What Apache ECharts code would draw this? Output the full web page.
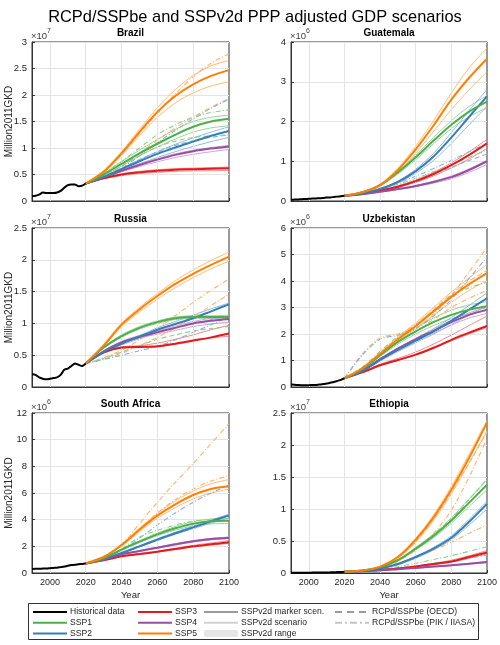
<!DOCTYPE html>
<html><head><meta charset="utf-8">
<script src="https://cdn.jsdelivr.net/npm/echarts@6/dist/echarts.min.js"></script>
<style>html,body{margin:0;padding:0;background:#fff}#c{width:500px;height:645px}</style>
</head><body><div id="c"></div>
<script>
// ---------------- DATA ----------------
const countries = ['Brazil','Guatemala','Russia','Uzbekistan','South Africa','Ethiopia'];
const exponents = [7,6,7,6,6,7];
const yMax = [3,4,2.5,6,12,2.5];
const yStep = [0.5,1,0.5,1,2,0.5];
const xTicks = [2000,2020,2040,2060,2080,2100];
const histYears = [1990,1992,1994,1996,1998,2000,2002,2004,2006,2008,2010,2012,2014,2016,2018,2020];
const projYears = [2020,2030,2040,2050,2060,2070,2080,2090,2100];
const sspNames = ['SSP1','SSP2','SSP3','SSP4','SSP5'];

// Brazil (x1e7)
const brazilHist = [.09,.10,.12,.16,.15,.15,.15,.16,.19,.25,.30,.31,.31,.28,.29,.33];
const brazilMarker = [
 [.33,.50,.70,.90,1.08,1.25,1.40,1.50,1.55],
 [.33,.45,.60,.75,.89,1.01,1.12,1.23,1.32],
 [.33,.43,.50,.54,.57,.59,.60,.61,.62],
 [.33,.45,.57,.68,.78,.87,.94,.99,1.03],
 [.33,.55,.90,1.30,1.68,1.98,2.20,2.36,2.47]];
const brazilLow = [
 [.33,.48,.66,.85,1.02,1.17,1.30,1.38,1.42],
 [.33,.44,.57,.70,.82,.93,1.03,1.12,1.20],
 [.33,.42,.48,.52,.54,.56,.57,.57,.58],
 [.33,.44,.55,.65,.74,.82,.88,.93,.97],
 [.33,.53,.86,1.23,1.58,1.85,2.04,2.17,2.25]];
const brazilHigh = [
 [.33,.52,.74,.96,1.16,1.35,1.50,1.58,1.62],
 [.33,.46,.62,.78,.93,1.07,1.19,1.30,1.40],
 [.33,.44,.51,.56,.59,.61,.62,.63,.64],
 [.33,.46,.58,.70,.80,.89,.96,1.01,1.05],
 [.33,.57,.93,1.35,1.76,2.10,2.37,2.55,2.65]];
const brazilPIK = [
 [5,[.33,.55,.88,1.27,1.66,2.02,2.34,2.60,2.78]],
 [5,[.33,.45,.65,.90,1.15,1.38,1.58,1.77,1.93]],
 [2,[.33,.44,.62,.85,1.10,1.33,1.55,1.75,1.92]],
 [1,[.33,.52,.75,1.00,1.25,1.44,1.58,1.67,1.72]]];
const brazilOECD = [
 [2,[.33,.46,.62,.78,.93,1.05,1.14,1.20,1.25]],
 [1,[.33,.47,.66,.86,1.02,1.13,1.20,1.23,1.25]]];

// Guatemala (x1e6)
const guatemalaHist = [.03,.035,.04,.045,.05,.055,.06,.065,.07,.075,.085,.09,.10,.11,.12,.13];
const guatemalaMarker = [
 [.13,.22,.40,.72,1.10,1.52,1.92,2.25,2.50],
 [.13,.19,.30,.48,.75,1.12,1.60,2.12,2.63],
 [.13,.18,.26,.36,.50,.68,.90,1.16,1.45],
 [.13,.17,.23,.30,.38,.48,.60,.78,1.00],
 [.13,.22,.40,.78,1.30,1.90,2.55,3.10,3.58]];
const guatemalaLow = [
 [.13,.21,.38,.68,1.04,1.44,1.82,2.12,2.35],
 [.13,.18,.28,.45,.70,1.02,1.45,1.92,2.38],
 [.13,.18,.25,.34,.47,.63,.83,1.06,1.32],
 [.13,.17,.22,.29,.36,.45,.56,.72,.92],
 [.13,.21,.38,.72,1.20,1.75,2.30,2.80,3.25]];
const guatemalaHigh = [
 [.13,.23,.42,.75,1.15,1.60,2.02,2.38,2.65],
 [.13,.20,.31,.50,.80,1.20,1.72,2.28,2.80],
 [.13,.19,.27,.38,.53,.72,.96,1.24,1.55],
 [.13,.17,.23,.31,.39,.50,.63,.81,1.02],
 [.13,.23,.42,.82,1.38,2.02,2.72,3.35,3.85]];
const guatemalaPIK = [
 [2,[.13,.19,.30,.45,.62,.82,1.02,1.24,1.45]],
 [1,[.13,.19,.29,.42,.57,.74,.92,1.10,1.28]]];
const guatemalaOECD = [
 [2,[.13,.18,.27,.38,.52,.68,.85,1.02,1.18]]];

// Russia (x1e7)
const russiaHist = [.20,.19,.15,.13,.12,.13,.14,.15,.19,.27,.29,.33,.37,.35,.33,.37];
const russiaMarker = [
 [.37,.62,.80,.93,1.02,1.08,1.10,1.10,1.10],
 [.37,.55,.68,.79,.90,.99,1.08,1.19,1.30],
 [.37,.54,.62,.63,.64,.68,.73,.78,.84],
 [.37,.56,.70,.79,.86,.93,1.00,1.04,1.07],
 [.37,.65,.98,1.22,1.43,1.62,1.78,1.92,2.05]];
const russiaLow = [
 [.37,.61,.78,.91,1.00,1.06,1.08,1.08,1.08],
 [.37,.54,.66,.76,.86,.94,1.00,1.06,1.12],
 [.37,.54,.61,.62,.63,.67,.72,.77,.80],
 [.37,.55,.68,.77,.83,.89,.95,.99,1.02],
 [.37,.63,.95,1.18,1.38,1.56,1.72,1.86,1.98]];
const russiaHigh = [
 [.37,.63,.82,.95,1.04,1.10,1.12,1.12,1.13],
 [.37,.56,.70,.81,.93,1.03,1.13,1.23,1.32],
 [.37,.55,.63,.65,.69,.75,.82,.90,.97],
 [.37,.57,.72,.81,.88,.96,1.03,1.08,1.11],
 [.37,.67,1.00,1.25,1.47,1.67,1.84,1.99,2.12]];
const russiaPIK = [
 [5,[.37,.46,.58,.74,.92,1.12,1.33,1.52,1.70]],
 [5,[.37,.44,.53,.65,.78,.93,1.10,1.28,1.46]],
 [2,[.37,.43,.50,.57,.64,.74,.86,.98,1.10]]];
const russiaOECD = [
 [1,[.37,.45,.55,.65,.75,.82,.88,.92,.95]]];

// Uzbekistan (x1e6)
const uzbekistanHist = [.09,.085,.075,.07,.07,.07,.075,.08,.09,.11,.13,.16,.19,.23,.27,.33];
const uzbekistanMarker = [
 [.33,.68,1.20,1.70,2.10,2.45,2.72,2.92,3.05],
 [.33,.60,1.02,1.40,1.75,2.10,2.50,2.92,3.35],
 [.33,.55,.82,1.02,1.22,1.48,1.78,2.05,2.30],
 [.33,.62,1.05,1.45,1.80,2.12,2.45,2.72,2.92],
 [.33,.70,1.25,1.80,2.30,2.85,3.40,3.88,4.30]];
const uzbekistanLow = [
 [.33,.66,1.15,1.62,2.00,2.32,2.58,2.76,2.88],
 [.33,.58,.98,1.34,1.67,2.00,2.35,2.72,3.05],
 [.33,.55,.81,1.00,1.20,1.45,1.74,2.00,2.25],
 [.33,.61,1.02,1.40,1.73,2.04,2.34,2.60,2.78],
 [.33,.68,1.20,1.72,2.20,2.70,3.20,3.65,4.02]];
const uzbekistanHigh = [
 [.33,.70,1.25,1.78,2.22,2.60,2.90,3.10,3.22],
 [.33,.62,1.06,1.46,1.83,2.20,2.62,3.08,3.55],
 [.33,.57,.86,1.08,1.32,1.62,1.96,2.32,2.68],
 [.33,.63,1.07,1.48,1.84,2.18,2.52,2.80,3.00],
 [.33,.72,1.30,1.88,2.42,3.00,3.58,4.12,4.62]];
const uzbekistanPIK = [
 [5,[.33,1.25,1.85,2.00,2.25,2.75,3.45,4.35,5.25]],
 [2,[.33,1.20,1.80,1.95,2.20,2.68,3.30,4.10,4.90]],
 [1,[.33,.75,1.35,1.90,2.35,2.90,3.45,3.75,3.95]],
 [5,[.33,.70,1.20,1.70,2.10,2.55,3.00,3.35,3.65]]];
const uzbekistanOECD = [
 [5,[.33,.72,1.28,1.85,2.35,2.92,3.50,4.00,4.40]]];

// South Africa (x1e6)
const southAfricaHist = [.30,.31,.31,.33,.34,.36,.38,.40,.44,.48,.54,.60,.61,.66,.68,.72];
const southAfricaMarker = [
 [.72,1.10,1.75,2.35,2.90,3.35,3.70,3.88,3.92],
 [.72,1.05,1.50,2.00,2.50,2.98,3.42,3.88,4.32],
 [.72,.95,1.25,1.42,1.60,1.80,2.00,2.15,2.30],
 [.72,1.00,1.40,1.65,1.90,2.15,2.38,2.55,2.65],
 [.72,1.20,2.10,3.25,4.30,5.15,5.85,6.30,6.50]];
const southAfricaLow = [
 [.72,1.08,1.70,2.28,2.80,3.22,3.52,3.68,3.72],
 [.72,1.04,1.47,1.95,2.43,2.90,3.32,3.75,4.12],
 [.72,.94,1.23,1.40,1.57,1.76,1.95,2.10,2.22],
 [.72,.99,1.38,1.62,1.86,2.10,2.32,2.48,2.58],
 [.72,1.18,2.00,3.10,4.10,4.90,5.55,6.00,6.30]];
const southAfricaHigh = [
 [.72,1.12,1.80,2.42,3.00,3.48,3.85,4.05,4.12],
 [.72,1.06,1.53,2.05,2.57,3.06,3.52,3.98,4.40],
 [.72,.96,1.27,1.45,1.64,1.85,2.07,2.25,2.42],
 [.72,1.01,1.42,1.68,1.94,2.20,2.43,2.60,2.70],
 [.72,1.22,2.15,3.35,4.45,5.40,6.15,6.70,7.00]];
const southAfricaPIK = [
 [5,[.72,1.20,2.10,3.70,5.30,6.80,8.20,9.70,11.2]],
 [5,[.72,1.20,2.10,3.30,4.50,5.50,6.30,6.90,7.30]],
 [2,[.72,1.10,1.70,2.60,3.60,4.50,5.30,6.00,6.60]],
 [1,[.72,1.10,1.80,2.70,3.20,3.60,3.90,4.00,4.10]]];
const southAfricaOECD = [];

// Ethiopia (x1e7)
const ethiopiaHist = [.004,.004,.004,.004,.005,.005,.006,.006,.007,.008,.009,.010,.012,.014,.016,.02];
const ethiopiaMarker = [
 [.02,.04,.09,.20,.38,.58,.82,1.10,1.38],
 [.02,.03,.07,.14,.25,.38,.55,.80,1.08],
 [.02,.03,.05,.07,.10,.14,.18,.25,.32],
 [.02,.03,.04,.06,.08,.10,.12,.145,.17],
 [.02,.04,.10,.25,.52,.87,1.30,1.80,2.35]];
const ethiopiaLow = [
 [.02,.04,.08,.19,.36,.55,.78,1.04,1.30],
 [.02,.03,.07,.13,.23,.36,.52,.75,1.00],
 [.02,.03,.05,.07,.095,.13,.17,.23,.30],
 [.02,.03,.04,.06,.075,.095,.115,.14,.16],
 [.02,.04,.09,.23,.48,.82,1.24,1.72,2.22]];
const ethiopiaHigh = [
 [.02,.04,.09,.21,.40,.61,.86,1.16,1.45],
 [.02,.03,.07,.14,.26,.40,.58,.84,1.12],
 [.02,.03,.05,.075,.105,.15,.20,.27,.35],
 [.02,.03,.04,.06,.085,.105,.125,.15,.18],
 [.02,.04,.10,.26,.54,.90,1.35,1.86,2.38]];
const ethiopiaPIK = [
 [5,[.02,.04,.08,.15,.25,.36,.48,.62,.75]],
 [5,[.02,.04,.08,.18,.36,.62,.98,1.50,2.10]],
 [1,[.02,.03,.06,.10,.15,.21,.27,.34,.41]],
 [2,[.02,.03,.05,.08,.11,.15,.19,.23,.28]]];
const ethiopiaOECD = [
 [1,[.02,.04,.09,.20,.38,.60,.85,1.15,1.47]],
 [5,[.02,.04,.10,.24,.50,.84,1.26,1.72,2.20]]];

const histAll = [brazilHist, guatemalaHist, russiaHist, uzbekistanHist, southAfricaHist, ethiopiaHist];
const markerAll = [brazilMarker, guatemalaMarker, russiaMarker, uzbekistanMarker, southAfricaMarker, ethiopiaMarker];
const lowAll = [brazilLow, guatemalaLow, russiaLow, uzbekistanLow, southAfricaLow, ethiopiaLow];
const highAll = [brazilHigh, guatemalaHigh, russiaHigh, uzbekistanHigh, southAfricaHigh, ethiopiaHigh];
const pikAll = [brazilPIK, guatemalaPIK, russiaPIK, uzbekistanPIK, southAfricaPIK, ethiopiaPIK];
const oecdAll = [brazilOECD, guatemalaOECD, russiaOECD, uzbekistanOECD, southAfricaOECD, ethiopiaOECD];

// ---------------- STYLE / LAYOUT ----------------
const colors = ['#4daf4a','#377eb8','#e41a1c','#984ea3','#ff7f00'];
const lightColors = ['#8fcf8d','#86b3dc','#f07b7c','#c79dcd','#ffb266'];
const fillColors = ['rgba(77,175,74,0.22)','rgba(55,126,184,0.22)','rgba(228,26,28,0.18)','rgba(152,78,163,0.2)','rgba(255,127,0,0.24)'];
const gridPos = [[32,42,197,159],[291,42,196,159],[32,228,197,159],[291,228,196,159],[32,413,197,160],[291,413,196,160]];
const axisColor = '#333333';
const textColor = '#262626';
const SM = 0.3;
const pairs = (xs, ys) => xs.map((x, k) => [x, ys[k]]);

const grids = gridPos.map(p => ({left:p[0], top:p[1], width:p[2], height:p[3], show:true, borderColor:axisColor, borderWidth:1, backgroundColor:'#fff'}));
const xAxes = gridPos.map((p,i) => ({
  type:'value', gridIndex:i, min:1990, max:2100,
  splitLine:{show:false},
  axisLine:{show:true, lineStyle:{color:axisColor}},
  axisTick:{show:true, inside:true, length:3, customValues:xTicks, lineStyle:{color:axisColor}},
  axisLabel:{show:i>=4, customValues:xTicks, color:textColor, fontSize:9, margin:5, formatter:v => String(v)},
  name: i>=4 ? 'Year' : '', nameLocation:'middle', nameGap:17,
  nameTextStyle:{color:textColor, fontSize:9.5}
}));
const yAxes = gridPos.map((p,i) => ({
  type:'value', gridIndex:i, min:0, max:yMax[i], interval:yStep[i],
  axisLine:{show:true, lineStyle:{color:axisColor}},
  axisTick:{show:true, inside:true, length:3, lineStyle:{color:axisColor}},
  splitLine:{show:true, lineStyle:{color:'#e4e4e4', width:1}},
  axisLabel:{color:textColor, fontSize:9.5, margin:5},
  name:'{x|×10}{e|' + exponents[i] + '}', nameLocation:'end', nameGap:1,
  nameTextStyle:{align:'left', verticalAlign:'bottom', padding:[0,0,0,-1],
    rich:{x:{fontSize:9.5, color:'#404040', lineHeight:13, verticalAlign:'bottom'},
          e:{fontSize:7, color:'#404040', lineHeight:8, verticalAlign:'top'}}}
}));

const series = [];
for (let i = 0; i < 6; i++) {
  const ax = {xAxisIndex:i, yAxisIndex:i};
  // vertical grid lines
  series.push(Object.assign({type:'line', data:[], silent:true, z:1,
    markLine:{silent:true, symbol:'none', label:{show:false}, animation:false,
      lineStyle:{color:'#e4e4e4', type:'solid', width:1},
      data: xTicks.slice(0,-1).map(v => ({xAxis:v}))}}, ax));
  // ranges
  for (let s = 0; s < 5; s++) {
    const lo = lowAll[i][s], hi = highAll[i][s];
    series.push(Object.assign({type:'line', stack:'r'+i+'_'+s, data:pairs(projYears, lo), symbol:'none', smooth:SM, silent:true, lineStyle:{width:0, opacity:0}, z:2}, ax));
    series.push(Object.assign({type:'line', stack:'r'+i+'_'+s, data:pairs(projYears, hi.map((v,k)=>v-lo[k])), symbol:'none', smooth:SM, silent:true, lineStyle:{width:0, opacity:0}, areaStyle:{color:fillColors[s], opacity:1}, z:2}, ax));
  }
  // scenario lines
  for (let s = 0; s < 5; s++) {
    [lowAll[i][s], highAll[i][s]].forEach(arr => {
      series.push(Object.assign({type:'line', data:pairs(projYears, arr), symbol:'none', smooth:SM, silent:true, lineStyle:{color:lightColors[s], width:0.9}, z:3}, ax));
    });
  }
  // RCPd/SSPbe lines
  pikAll[i].forEach(([s, arr]) => {
    series.push(Object.assign({type:'line', data:pairs(projYears, arr), symbol:'none', smooth:SM, silent:true, lineStyle:{color:lightColors[s-1], width:1.1, type:[5,2,1,2]}, z:4}, ax));
  });
  oecdAll[i].forEach(([s, arr]) => {
    series.push(Object.assign({type:'line', data:pairs(projYears, arr), symbol:'none', smooth:SM, silent:true, lineStyle:{color:lightColors[s-1], width:1.1, type:[5,3]}, z:4}, ax));
  });
  // markers
  [2,3,1,0,4].forEach(s => {
    series.push(Object.assign({type:'line', name:sspNames[s], data:pairs(projYears, markerAll[i][s]), symbol:'none', smooth:SM, color:colors[s], lineStyle:{color:colors[s], width:2}, z:5}, ax));
  });
  // historical
  series.push(Object.assign({type:'line', name:'Historical data', data:pairs(histYears, histAll[i]), symbol:'none', smooth:0.2, color:'#000', lineStyle:{color:'#000', width:2}, z:6}, ax));
}
// legend-only entries
series.push({type:'line', name:'SSPv2d marker scen.', data:[], symbol:'none', color:'#9a9a9a', lineStyle:{color:'#9a9a9a', width:2}, xAxisIndex:0, yAxisIndex:0});
series.push({type:'line', name:'SSPv2d scenario', data:[], symbol:'none', color:'#d2d2d2', lineStyle:{color:'#d2d2d2', width:2}, xAxisIndex:0, yAxisIndex:0});
series.push({type:'bar', name:'SSPv2d range', data:[], color:'#e6e6e6', itemStyle:{color:'#e6e6e6'}, xAxisIndex:0, yAxisIndex:0});
series.push({type:'line', name:'RCPd/SSPbe (OECD)', data:[], symbol:'none', color:'#9a9a9a', lineStyle:{color:'#9a9a9a', width:1.2, type:[7,5]}, xAxisIndex:0, yAxisIndex:0});
series.push({type:'line', name:'RCPd/SSPbe (PIK / IIASA)', data:[], symbol:'none', color:'#c4c4c4', lineStyle:{color:'#c4c4c4', width:1.2, type:[7,3,2,3]}, xAxisIndex:0, yAxisIndex:0});

const legendCommon = {orient:'vertical', itemWidth:34, itemHeight:7, itemGap:0.7, padding:0, selectedMode:false,
  itemStyle:{opacity:0},
  textStyle:{fontSize:8.6, color:textColor, lineHeight:10, padding:[0,0,0,-2]}};
const legendCols = [
  [32, ['Historical data','SSP1','SSP2']],
  [137, ['SSP3','SSP4','SSP5']],
  [203, ['SSPv2d marker scen.','SSPv2d scenario', {name:'SSPv2d range', itemStyle:{opacity:1, color:'#e6e6e6'}}]],
  [334, ['RCPd/SSPbe (OECD)','RCPd/SSPbe (PIK / IIASA)']]];
const legends = legendCols.map(([x, names]) => Object.assign({left:x, top:607, data:names}, legendCommon));

const titles = [{text:'RCPd/SSPbe and SSPv2d PPP adjusted GDP scenarios', left:250, textAlign:'center', top:4,
  textStyle:{fontSize:16.4, fontWeight:'normal', color:'#000'}}];
countries.forEach((c,i) => {
  const p = gridPos[i];
  titles.push({text:c, left:p[0]+p[2]/2, textAlign:'center', top:p[1]-14, padding:0,
    textStyle:{fontSize:10, fontWeight:'bold', color:'#000'}});
});

const graphics = [
  {type:'rect', shape:{x:28.5, y:603.5, width:450, height:36}, style:{fill:'#fff', stroke:axisColor, lineWidth:1}, z:-1}
];
[0,2,4].forEach(i => {
  const p = gridPos[i];
  graphics.push({type:'text', x:9, y:p[1]+p[3]/2, rotation:Math.PI/2,
    style:{text:'Million2011GKD', textAlign:'center', textVerticalAlign:'middle', fontSize:10, fill:textColor}});
});

const chart = echarts.init(document.getElementById('c'), null, {renderer:'canvas'});
chart.setOption({
  animation:false,
  textStyle:{fontFamily:'Liberation Sans, Arial, sans-serif'},
  title:titles, grid:grids, xAxis:xAxes, yAxis:yAxes, series:series, legend:legends, graphic:graphics
});
</script></body></html>
